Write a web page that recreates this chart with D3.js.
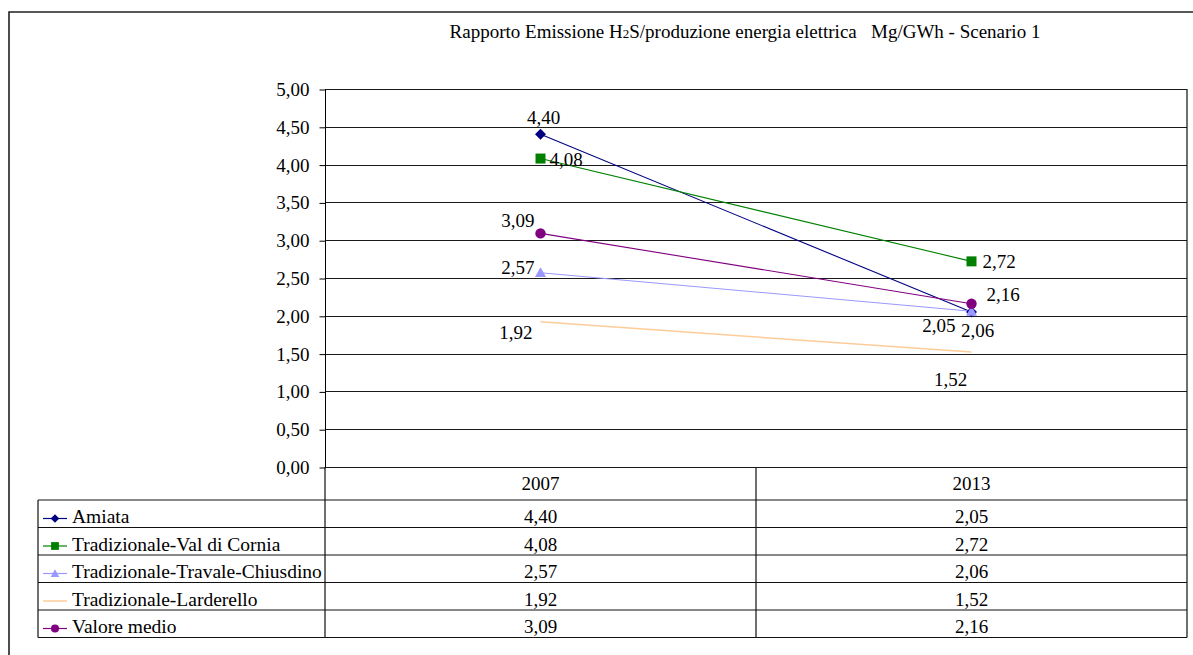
<!DOCTYPE html>
<html>
<head>
<meta charset="utf-8">
<script src="https://cdn.jsdelivr.net/npm/d3@7"></script>
<style>
  html, body { margin: 0; padding: 0; background: #fff; }
  svg { display: block; }
  svg text { font-family: "Liberation Serif", Tinos, "Times New Roman", "DejaVu Serif", "Noto Serif", serif; }
</style>
</head>
<body>
<svg id="chart" width="1193" height="655"></svg>
<script>
// Categories (years) and series values, Mg/GWh
const years = ["2007", "2013"];
const seriesNames = [
  "Amiata",
  "Tradizionale-Val di Cornia",
  "Tradizionale-Travale-Chiusdino",
  "Tradizionale-Larderello",
  "Valore medio"
];
const amiata = [4.40, 2.05];
const valDiCornia = [4.08, 2.72];
const travaleChiusdino = [2.57, 2.06];
const larderello = [1.92, 1.52];
const valoreMedio = [3.09, 2.16];
const yTicks = [0, 0.5, 1, 1.5, 2, 2.5, 3, 3.5, 4, 4.5, 5];

const seriesValues = [amiata, valDiCornia, travaleChiusdino, larderello, valoreMedio];

// Styling per series
const seriesColors = ["#000080", "#008000", "#9999FF", "#FFCC99", "#800080"];
const seriesMarkers = ["diamond", "square", "triangle", "none", "circle"];
// Data label offsets (dx, dy, anchor) for each series at each year
const labelPlacement = [
  [[3, -10, "middle"], [-16, 20, "end"]],
  [[9, 7, "start"], [11, 7, "start"]],
  [[-6, 1, "end"], [6, 26, "middle"]],
  [[-8, 17, "end"], [-21, 34, "middle"]],
  [[-6, -6, "end"], [15, -3, "start"]]
];

const it = d3.formatLocale({ decimal: ",", thousands: ".", grouping: [3], currency: ["€", ""] });
const fmt = it.format(".2f");

const svg = d3.select("#chart");

// Outer frame (left and top edges)
svg.append("path")
  .attr("d", "M9,655 L9,12 L1193,12")
  .attr("fill", "none").attr("stroke", "#222").attr("stroke-width", 1.6);

// Title
const title = svg.append("text")
  .attr("x", 745).attr("y", 38)
  .attr("text-anchor", "middle")
  .attr("font-size", 19).attr("fill", "#000");
title.append("tspan").text("Rapporto Emissione H");
title.append("tspan").attr("font-size", 13).text("2");
title.append("tspan").text("S/produzione energia elettrica\u00a0\u00a0\u00a0Mg/GWh - Scenario 1");

const plot = { left: 325, right: 1187, top: 89, bottom: 467 };

// Two equal category columns spanning the plot width
const x = d3.scaleBand().domain(years).range([plot.left, plot.right]).paddingInner(0).paddingOuter(0);
const y = d3.scaleLinear().domain([0, 5]).range([plot.bottom, plot.top]);
const cx = yr => x(yr) + x.bandwidth() / 2;

// Gridlines
svg.append("g")
  .selectAll("line")
  .data(yTicks)
  .join("line")
  .attr("x1", plot.left).attr("x2", plot.right)
  .attr("y1", d => Math.round(y(d)) + 0.5).attr("y2", d => Math.round(y(d)) + 0.5)
  .attr("stroke", "#1a1a1a").attr("stroke-width", 1.2);

// Y axis
const yAxis = d3.axisLeft(y).tickValues(yTicks).tickFormat(fmt).tickSize(6).tickPadding(10);
const gy = svg.append("g")
  .attr("transform", `translate(${plot.left + 0.5},0.5)`)
  .call(yAxis)
  .attr("font-family", null);
gy.select(".domain").attr("stroke", "#000").attr("d", `M0,${plot.top - 0.5}V${plot.bottom - 0.5}`);
gy.selectAll(".tick line").attr("stroke", "#000");
gy.selectAll(".tick text").attr("font-size", 19).attr("fill", "#000");

// Series lines
const line = d3.line()
  .x((d, i) => cx(years[i]))
  .y(d => y(d));

// Marker shapes, r = half-width in px
const markerPath = (type, r) => {
  if (type === "diamond") return `M0,${-r}L${r},0L0,${r}L${-r},0Z`;
  if (type === "square") return `M${-r},${-r}H${r}V${r}H${-r}Z`;
  if (type === "triangle") return `M0,${-r}L${r},${r * 0.8}L${-r},${r * 0.8}Z`;
  if (type === "circle") return d3.arc()({ innerRadius: 0, outerRadius: r, startAngle: 0, endAngle: 2 * Math.PI });
  return "";
};
const markerR = { diamond: 5.5, square: 5, triangle: 5.5, circle: 5.2 };

seriesValues.forEach((vals, si) => {
  svg.append("path")
    .datum(vals)
    .attr("d", line)
    .attr("fill", "none")
    .attr("stroke", seriesColors[si])
    .attr("stroke-width", si === 3 ? 1.5 : 1.1);
});

seriesValues.forEach((vals, si) => {
  if (seriesMarkers[si] === "none") return;
  svg.append("g").selectAll("path")
    .data(vals)
    .join("path")
    .attr("transform", (d, i) => `translate(${cx(years[i])},${y(d)})`)
    .attr("d", markerPath(seriesMarkers[si], markerR[seriesMarkers[si]]))
    .attr("fill", seriesColors[si]);
});

// Data labels
seriesValues.forEach((vals, si) => {
  svg.append("g").selectAll("text")
    .data(vals)
    .join("text")
    .attr("x", (d, i) => cx(years[i]) + labelPlacement[si][i][0])
    .attr("y", (d, i) => y(d) + labelPlacement[si][i][1])
    .attr("text-anchor", (d, i) => labelPlacement[si][i][2])
    .attr("font-size", 19).attr("fill", "#000")
    .text(d => fmt(d));
});

// Data table below the plot
const table = { left: 38, headerBottom: 500, rowH: 27.5 };
const tableBottom = table.headerBottom + seriesNames.length * table.rowH;
const tg = svg.append("g").attr("stroke", "#111").attr("stroke-width", 1.2).attr("fill", "none");

tg.append("path").attr("d",
  `M${plot.left},${plot.bottom} V${tableBottom}` +
  `M${x("2013")},${plot.bottom} V${tableBottom}` +
  `M${plot.right},${plot.top} V${tableBottom}` +
  `M${table.left},${table.headerBottom} V${tableBottom}`);
const rowLines = d3.range(seriesNames.length + 1).map(i => table.headerBottom + i * table.rowH);
tg.selectAll("line.row")
  .data(rowLines)
  .join("line")
  .attr("class", "row")
  .attr("x1", table.left).attr("x2", plot.right)
  .attr("y1", d => d).attr("y2", d => d);

// Header years
svg.append("g").selectAll("text")
  .data(years)
  .join("text")
  .attr("x", d => cx(d))
  .attr("y", 490)
  .attr("text-anchor", "middle")
  .attr("font-size", 19).attr("fill", "#000")
  .text(d => d);

// Rows: legend key + values
seriesNames.forEach((name, si) => {
  const top = table.headerBottom + si * table.rowH;
  const ly = top + 18.5;
  const g = svg.append("g");
  g.append("line")
    .attr("x1", 43).attr("x2", 67)
    .attr("y1", ly).attr("y2", ly)
    .attr("stroke", seriesColors[si]).attr("stroke-width", si === 3 ? 1.5 : 1.2);
  if (seriesMarkers[si] !== "none") {
    g.append("path")
      .attr("transform", `translate(55,${ly})`)
      .attr("d", markerPath(seriesMarkers[si], markerR[seriesMarkers[si]] * 0.78))
      .attr("fill", seriesColors[si]);
  }
  g.append("text")
    .attr("x", 72).attr("y", top + 23)
    .attr("font-size", 19.5).attr("fill", "#000")
    .text(name);
  g.selectAll("text.val")
    .data(seriesValues[si])
    .join("text")
    .attr("class", "val")
    .attr("x", (d, i) => cx(years[i]))
    .attr("y", top + 23)
    .attr("text-anchor", "middle")
    .attr("font-size", 19).attr("fill", "#000")
    .text(d => fmt(d));
});
</script>
</body>
</html>
